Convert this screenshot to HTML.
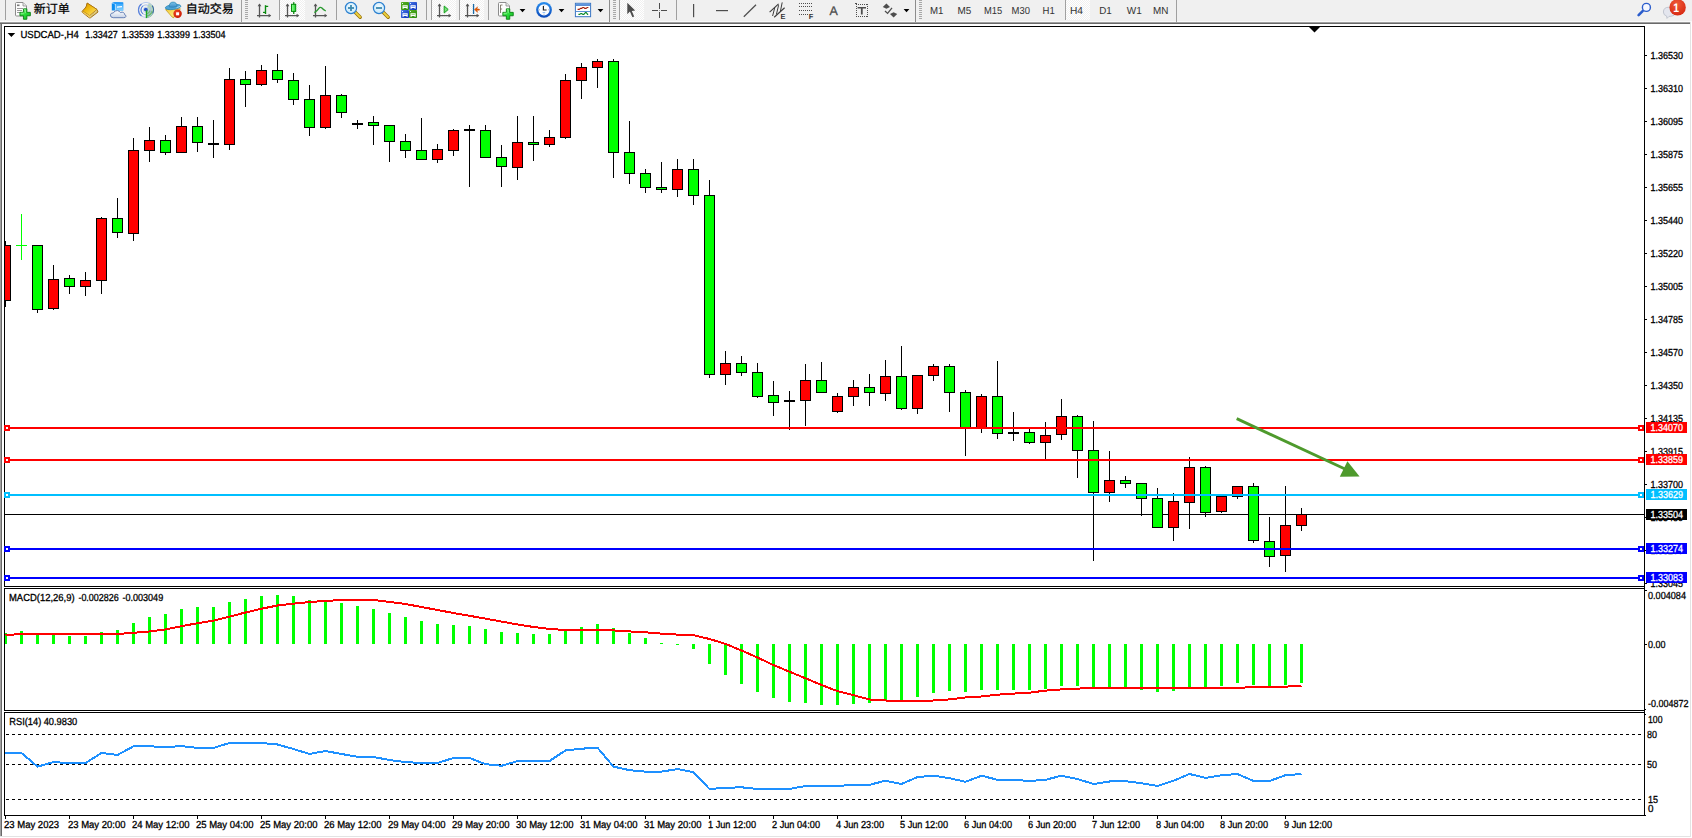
<!DOCTYPE html>
<html><head><meta charset="utf-8"><title>USDCAD-,H4</title>
<style>
html,body{margin:0;padding:0;background:#fff;}
body{width:1692px;height:838px;overflow:hidden;position:relative;font-family:"Liberation Sans","Noto Sans CJK SC",sans-serif;}
svg{position:absolute;left:0;top:0;display:block;}
svg text{font-family:"Liberation Sans","Noto Sans CJK SC",sans-serif;}
</style></head><body>
<svg width="1692" height="838" viewBox="0 0 1692 838" shape-rendering="crispEdges">
<rect x="0" y="0" width="1692" height="838" fill="#ffffff"/>
<rect x="0" y="0" width="1692" height="21" fill="#f0f0f0"/>
<rect x="0" y="21" width="1692" height="1" fill="#fafafa"/>
<rect x="0" y="22" width="1690" height="1" fill="#a0a0a0"/>
<rect x="0" y="23" width="1690" height="1" fill="#696969"/>
<rect x="0" y="24" width="1" height="812" fill="#a0a0a0"/>
<rect x="1" y="24" width="1" height="812" fill="#696969"/>
<rect x="1690" y="22" width="1" height="815" fill="#e3e3e3"/>
<rect x="0" y="836" width="1691" height="1" fill="#e3e3e3"/>
<rect x="4" y="26" width="1641" height="1" fill="#000"/>
<rect x="4" y="586" width="1641" height="1" fill="#000"/>
<rect x="4" y="26" width="1" height="561" fill="#000"/>
<rect x="4" y="588" width="1641" height="1" fill="#000"/>
<rect x="4" y="710" width="1641" height="1" fill="#000"/>
<rect x="4" y="588" width="1" height="123" fill="#000"/>
<rect x="4" y="712" width="1641" height="1" fill="#000"/>
<rect x="4" y="815" width="1641" height="1" fill="#000"/>
<rect x="4" y="712" width="1" height="104" fill="#000"/>
<rect x="1644" y="26" width="1" height="790" fill="#000"/>
<rect x="1645" y="55" width="2" height="1" fill="#000"/>
<rect x="1645" y="88" width="2" height="1" fill="#000"/>
<rect x="1645" y="121" width="2" height="1" fill="#000"/>
<rect x="1645" y="154" width="2" height="1" fill="#000"/>
<rect x="1645" y="187" width="2" height="1" fill="#000"/>
<rect x="1645" y="220" width="2" height="1" fill="#000"/>
<rect x="1645" y="253" width="2" height="1" fill="#000"/>
<rect x="1645" y="286" width="2" height="1" fill="#000"/>
<rect x="1645" y="319" width="2" height="1" fill="#000"/>
<rect x="1645" y="352" width="2" height="1" fill="#000"/>
<rect x="1645" y="385" width="2" height="1" fill="#000"/>
<rect x="1645" y="418" width="2" height="1" fill="#000"/>
<rect x="1645" y="451" width="2" height="1" fill="#000"/>
<rect x="1645" y="484" width="2" height="1" fill="#000"/>
<rect x="1645" y="517" width="2" height="1" fill="#000"/>
<rect x="1645" y="550" width="2" height="1" fill="#000"/>
<rect x="1645" y="583" width="2" height="1" fill="#000"/>
<rect x="1645" y="590" width="2" height="1" fill="#000"/>
<rect x="1645" y="644" width="2" height="1" fill="#000"/>
<rect x="1645" y="709" width="1" height="1" fill="#000"/>
<rect x="1645" y="714" width="1" height="1" fill="#000"/>
<rect x="1645" y="815" width="1" height="1" fill="#000"/>
<polygon points="1309,27 1320,27 1314.5,32.5" fill="#000" shape-rendering="geometricPrecision"/>
<polygon points="7.6,33 15.2,33 11.4,37" fill="#000" shape-rendering="geometricPrecision"/>
<rect x="5" y="514" width="1639" height="1" fill="#000"/>
<rect x="21" y="214" width="1" height="46" fill="#00ff00"/>
<rect x="16" y="245" width="11" height="1" fill="#00ff00"/>
<rect x="5" y="241" width="1" height="66" fill="#000"/>
<rect x="5" y="245" width="6" height="56" fill="#000"/>
<rect x="5" y="246" width="5" height="54" fill="#ff0000"/>
<rect x="37" y="245" width="1" height="68" fill="#000"/>
<rect x="32" y="245" width="11" height="65" fill="#000"/>
<rect x="33" y="246" width="9" height="63" fill="#00ff00"/>
<rect x="53" y="265" width="1" height="45" fill="#000"/>
<rect x="48" y="279" width="11" height="30" fill="#000"/>
<rect x="49" y="280" width="9" height="28" fill="#ff0000"/>
<rect x="69" y="275" width="1" height="19" fill="#000"/>
<rect x="64" y="278" width="11" height="9" fill="#000"/>
<rect x="65" y="279" width="9" height="7" fill="#00ff00"/>
<rect x="85" y="272" width="1" height="24" fill="#000"/>
<rect x="80" y="280" width="11" height="7" fill="#000"/>
<rect x="81" y="281" width="9" height="5" fill="#ff0000"/>
<rect x="101" y="217" width="1" height="77" fill="#000"/>
<rect x="96" y="218" width="11" height="63" fill="#000"/>
<rect x="97" y="219" width="9" height="61" fill="#ff0000"/>
<rect x="117" y="198" width="1" height="40" fill="#000"/>
<rect x="112" y="218" width="11" height="15" fill="#000"/>
<rect x="113" y="219" width="9" height="13" fill="#00ff00"/>
<rect x="133" y="138" width="1" height="103" fill="#000"/>
<rect x="128" y="150" width="11" height="84" fill="#000"/>
<rect x="129" y="151" width="9" height="82" fill="#ff0000"/>
<rect x="149" y="127" width="1" height="35" fill="#000"/>
<rect x="144" y="140" width="11" height="11" fill="#000"/>
<rect x="145" y="141" width="9" height="9" fill="#ff0000"/>
<rect x="165" y="135" width="1" height="20" fill="#000"/>
<rect x="160" y="140" width="11" height="13" fill="#000"/>
<rect x="161" y="141" width="9" height="11" fill="#00ff00"/>
<rect x="181" y="117" width="1" height="36" fill="#000"/>
<rect x="176" y="126" width="11" height="27" fill="#000"/>
<rect x="177" y="127" width="9" height="25" fill="#ff0000"/>
<rect x="197" y="117" width="1" height="35" fill="#000"/>
<rect x="192" y="126" width="11" height="17" fill="#000"/>
<rect x="193" y="127" width="9" height="15" fill="#00ff00"/>
<rect x="213" y="120" width="1" height="38" fill="#000"/>
<rect x="208" y="143" width="11" height="2" fill="#000"/>
<rect x="229" y="68" width="1" height="82" fill="#000"/>
<rect x="224" y="79" width="11" height="66" fill="#000"/>
<rect x="225" y="80" width="9" height="64" fill="#ff0000"/>
<rect x="245" y="71" width="1" height="36" fill="#000"/>
<rect x="240" y="79" width="11" height="6" fill="#000"/>
<rect x="241" y="80" width="9" height="4" fill="#00ff00"/>
<rect x="261" y="65" width="1" height="21" fill="#000"/>
<rect x="256" y="70" width="11" height="15" fill="#000"/>
<rect x="257" y="71" width="9" height="13" fill="#ff0000"/>
<rect x="277" y="54" width="1" height="29" fill="#000"/>
<rect x="272" y="70" width="11" height="10" fill="#000"/>
<rect x="273" y="71" width="9" height="8" fill="#00ff00"/>
<rect x="293" y="73" width="1" height="32" fill="#000"/>
<rect x="288" y="80" width="11" height="20" fill="#000"/>
<rect x="289" y="81" width="9" height="18" fill="#00ff00"/>
<rect x="309" y="85" width="1" height="51" fill="#000"/>
<rect x="304" y="99" width="11" height="29" fill="#000"/>
<rect x="305" y="100" width="9" height="27" fill="#00ff00"/>
<rect x="325" y="66" width="1" height="63" fill="#000"/>
<rect x="320" y="95" width="11" height="33" fill="#000"/>
<rect x="321" y="96" width="9" height="31" fill="#ff0000"/>
<rect x="341" y="94" width="1" height="24" fill="#000"/>
<rect x="336" y="95" width="11" height="18" fill="#000"/>
<rect x="337" y="96" width="9" height="16" fill="#00ff00"/>
<rect x="357" y="120" width="1" height="9" fill="#000"/>
<rect x="352" y="123" width="11" height="2" fill="#000"/>
<rect x="373" y="116" width="1" height="29" fill="#000"/>
<rect x="368" y="122" width="11" height="4" fill="#000"/>
<rect x="369" y="123" width="9" height="2" fill="#00ff00"/>
<rect x="389" y="125" width="1" height="37" fill="#000"/>
<rect x="384" y="125" width="11" height="17" fill="#000"/>
<rect x="385" y="126" width="9" height="15" fill="#00ff00"/>
<rect x="405" y="134" width="1" height="24" fill="#000"/>
<rect x="400" y="141" width="11" height="10" fill="#000"/>
<rect x="401" y="142" width="9" height="8" fill="#00ff00"/>
<rect x="421" y="118" width="1" height="42" fill="#000"/>
<rect x="416" y="150" width="11" height="10" fill="#000"/>
<rect x="417" y="151" width="9" height="8" fill="#00ff00"/>
<rect x="437" y="144" width="1" height="19" fill="#000"/>
<rect x="432" y="149" width="11" height="11" fill="#000"/>
<rect x="433" y="150" width="9" height="9" fill="#ff0000"/>
<rect x="453" y="129" width="1" height="27" fill="#000"/>
<rect x="448" y="130" width="11" height="21" fill="#000"/>
<rect x="449" y="131" width="9" height="19" fill="#ff0000"/>
<rect x="469" y="125" width="1" height="62" fill="#000"/>
<rect x="464" y="129" width="11" height="2" fill="#000"/>
<rect x="485" y="125" width="1" height="33" fill="#000"/>
<rect x="480" y="130" width="11" height="28" fill="#000"/>
<rect x="481" y="131" width="9" height="26" fill="#00ff00"/>
<rect x="501" y="145" width="1" height="42" fill="#000"/>
<rect x="496" y="157" width="11" height="10" fill="#000"/>
<rect x="497" y="158" width="9" height="8" fill="#00ff00"/>
<rect x="517" y="116" width="1" height="64" fill="#000"/>
<rect x="512" y="142" width="11" height="26" fill="#000"/>
<rect x="513" y="143" width="9" height="24" fill="#ff0000"/>
<rect x="533" y="116" width="1" height="45" fill="#000"/>
<rect x="528" y="142" width="11" height="3" fill="#000"/>
<rect x="529" y="143" width="9" height="1" fill="#00ff00"/>
<rect x="549" y="130" width="1" height="17" fill="#000"/>
<rect x="544" y="137" width="11" height="8" fill="#000"/>
<rect x="545" y="138" width="9" height="6" fill="#ff0000"/>
<rect x="565" y="74" width="1" height="65" fill="#000"/>
<rect x="560" y="80" width="11" height="58" fill="#000"/>
<rect x="561" y="81" width="9" height="56" fill="#ff0000"/>
<rect x="581" y="63" width="1" height="36" fill="#000"/>
<rect x="576" y="67" width="11" height="14" fill="#000"/>
<rect x="577" y="68" width="9" height="12" fill="#ff0000"/>
<rect x="597" y="59" width="1" height="29" fill="#000"/>
<rect x="592" y="61" width="11" height="7" fill="#000"/>
<rect x="593" y="62" width="9" height="5" fill="#ff0000"/>
<rect x="613" y="59" width="1" height="119" fill="#000"/>
<rect x="608" y="61" width="11" height="92" fill="#000"/>
<rect x="609" y="62" width="9" height="90" fill="#00ff00"/>
<rect x="629" y="121" width="1" height="63" fill="#000"/>
<rect x="624" y="152" width="11" height="22" fill="#000"/>
<rect x="625" y="153" width="9" height="20" fill="#00ff00"/>
<rect x="645" y="169" width="1" height="24" fill="#000"/>
<rect x="640" y="173" width="11" height="15" fill="#000"/>
<rect x="641" y="174" width="9" height="13" fill="#00ff00"/>
<rect x="661" y="162" width="1" height="31" fill="#000"/>
<rect x="656" y="187" width="11" height="3" fill="#000"/>
<rect x="657" y="188" width="9" height="1" fill="#00ff00"/>
<rect x="677" y="159" width="1" height="38" fill="#000"/>
<rect x="672" y="169" width="11" height="21" fill="#000"/>
<rect x="673" y="170" width="9" height="19" fill="#ff0000"/>
<rect x="693" y="159" width="1" height="46" fill="#000"/>
<rect x="688" y="169" width="11" height="27" fill="#000"/>
<rect x="689" y="170" width="9" height="25" fill="#00ff00"/>
<rect x="709" y="180" width="1" height="198" fill="#000"/>
<rect x="704" y="195" width="11" height="180" fill="#000"/>
<rect x="705" y="196" width="9" height="178" fill="#00ff00"/>
<rect x="725" y="351" width="1" height="34" fill="#000"/>
<rect x="720" y="363" width="11" height="12" fill="#000"/>
<rect x="721" y="364" width="9" height="10" fill="#ff0000"/>
<rect x="741" y="356" width="1" height="20" fill="#000"/>
<rect x="736" y="363" width="11" height="10" fill="#000"/>
<rect x="737" y="364" width="9" height="8" fill="#00ff00"/>
<rect x="757" y="363" width="1" height="35" fill="#000"/>
<rect x="752" y="372" width="11" height="25" fill="#000"/>
<rect x="753" y="373" width="9" height="23" fill="#00ff00"/>
<rect x="773" y="381" width="1" height="35" fill="#000"/>
<rect x="768" y="395" width="11" height="8" fill="#000"/>
<rect x="769" y="396" width="9" height="6" fill="#00ff00"/>
<rect x="789" y="391" width="1" height="39" fill="#000"/>
<rect x="784" y="400" width="11" height="2" fill="#000"/>
<rect x="805" y="364" width="1" height="62" fill="#000"/>
<rect x="800" y="380" width="11" height="21" fill="#000"/>
<rect x="801" y="381" width="9" height="19" fill="#ff0000"/>
<rect x="821" y="362" width="1" height="31" fill="#000"/>
<rect x="816" y="380" width="11" height="13" fill="#000"/>
<rect x="817" y="381" width="9" height="11" fill="#00ff00"/>
<rect x="837" y="393" width="1" height="20" fill="#000"/>
<rect x="832" y="396" width="11" height="16" fill="#000"/>
<rect x="833" y="397" width="9" height="14" fill="#ff0000"/>
<rect x="853" y="380" width="1" height="26" fill="#000"/>
<rect x="848" y="387" width="11" height="10" fill="#000"/>
<rect x="849" y="388" width="9" height="8" fill="#ff0000"/>
<rect x="869" y="374" width="1" height="32" fill="#000"/>
<rect x="864" y="387" width="11" height="6" fill="#000"/>
<rect x="865" y="388" width="9" height="4" fill="#00ff00"/>
<rect x="885" y="360" width="1" height="41" fill="#000"/>
<rect x="880" y="376" width="11" height="18" fill="#000"/>
<rect x="881" y="377" width="9" height="16" fill="#ff0000"/>
<rect x="901" y="346" width="1" height="64" fill="#000"/>
<rect x="896" y="376" width="11" height="33" fill="#000"/>
<rect x="897" y="377" width="9" height="31" fill="#00ff00"/>
<rect x="917" y="375" width="1" height="39" fill="#000"/>
<rect x="912" y="375" width="11" height="34" fill="#000"/>
<rect x="913" y="376" width="9" height="32" fill="#ff0000"/>
<rect x="933" y="364" width="1" height="17" fill="#000"/>
<rect x="928" y="366" width="11" height="10" fill="#000"/>
<rect x="929" y="367" width="9" height="8" fill="#ff0000"/>
<rect x="949" y="364" width="1" height="48" fill="#000"/>
<rect x="944" y="366" width="11" height="27" fill="#000"/>
<rect x="945" y="367" width="9" height="25" fill="#00ff00"/>
<rect x="965" y="390" width="1" height="66" fill="#000"/>
<rect x="960" y="392" width="11" height="37" fill="#000"/>
<rect x="961" y="393" width="9" height="35" fill="#00ff00"/>
<rect x="981" y="394" width="1" height="39" fill="#000"/>
<rect x="976" y="396" width="11" height="33" fill="#000"/>
<rect x="977" y="397" width="9" height="31" fill="#ff0000"/>
<rect x="997" y="361" width="1" height="78" fill="#000"/>
<rect x="992" y="396" width="11" height="38" fill="#000"/>
<rect x="993" y="397" width="9" height="36" fill="#00ff00"/>
<rect x="1013" y="412" width="1" height="29" fill="#000"/>
<rect x="1008" y="432" width="11" height="2" fill="#000"/>
<rect x="1029" y="429" width="1" height="15" fill="#000"/>
<rect x="1024" y="432" width="11" height="11" fill="#000"/>
<rect x="1025" y="433" width="9" height="9" fill="#00ff00"/>
<rect x="1045" y="422" width="1" height="37" fill="#000"/>
<rect x="1040" y="435" width="11" height="8" fill="#000"/>
<rect x="1041" y="436" width="9" height="6" fill="#ff0000"/>
<rect x="1061" y="399" width="1" height="41" fill="#000"/>
<rect x="1056" y="416" width="11" height="19" fill="#000"/>
<rect x="1057" y="417" width="9" height="17" fill="#ff0000"/>
<rect x="1077" y="415" width="1" height="63" fill="#000"/>
<rect x="1072" y="416" width="11" height="35" fill="#000"/>
<rect x="1073" y="417" width="9" height="33" fill="#00ff00"/>
<rect x="1093" y="421" width="1" height="140" fill="#000"/>
<rect x="1088" y="450" width="11" height="43" fill="#000"/>
<rect x="1089" y="451" width="9" height="41" fill="#00ff00"/>
<rect x="1109" y="451" width="1" height="51" fill="#000"/>
<rect x="1104" y="480" width="11" height="13" fill="#000"/>
<rect x="1105" y="481" width="9" height="11" fill="#ff0000"/>
<rect x="1125" y="476" width="1" height="12" fill="#000"/>
<rect x="1120" y="480" width="11" height="4" fill="#000"/>
<rect x="1121" y="481" width="9" height="2" fill="#00ff00"/>
<rect x="1141" y="483" width="1" height="33" fill="#000"/>
<rect x="1136" y="483" width="11" height="16" fill="#000"/>
<rect x="1137" y="484" width="9" height="14" fill="#00ff00"/>
<rect x="1157" y="488" width="1" height="40" fill="#000"/>
<rect x="1152" y="498" width="11" height="30" fill="#000"/>
<rect x="1153" y="499" width="9" height="28" fill="#00ff00"/>
<rect x="1173" y="493" width="1" height="48" fill="#000"/>
<rect x="1168" y="501" width="11" height="27" fill="#000"/>
<rect x="1169" y="502" width="9" height="25" fill="#ff0000"/>
<rect x="1189" y="457" width="1" height="72" fill="#000"/>
<rect x="1184" y="467" width="11" height="36" fill="#000"/>
<rect x="1185" y="468" width="9" height="34" fill="#ff0000"/>
<rect x="1205" y="466" width="1" height="51" fill="#000"/>
<rect x="1200" y="467" width="11" height="46" fill="#000"/>
<rect x="1201" y="468" width="9" height="44" fill="#00ff00"/>
<rect x="1221" y="496" width="1" height="17" fill="#000"/>
<rect x="1216" y="496" width="11" height="16" fill="#000"/>
<rect x="1217" y="497" width="9" height="14" fill="#ff0000"/>
<rect x="1237" y="486" width="1" height="13" fill="#000"/>
<rect x="1232" y="486" width="11" height="11" fill="#000"/>
<rect x="1233" y="487" width="9" height="9" fill="#ff0000"/>
<rect x="1253" y="483" width="1" height="60" fill="#000"/>
<rect x="1248" y="486" width="11" height="55" fill="#000"/>
<rect x="1249" y="487" width="9" height="53" fill="#00ff00"/>
<rect x="1269" y="517" width="1" height="50" fill="#000"/>
<rect x="1264" y="541" width="11" height="16" fill="#000"/>
<rect x="1265" y="542" width="9" height="14" fill="#00ff00"/>
<rect x="1285" y="486" width="1" height="86" fill="#000"/>
<rect x="1280" y="525" width="11" height="31" fill="#000"/>
<rect x="1281" y="526" width="9" height="29" fill="#ff0000"/>
<rect x="1301" y="508" width="1" height="23" fill="#000"/>
<rect x="1296" y="514" width="11" height="12" fill="#000"/>
<rect x="1297" y="515" width="9" height="10" fill="#ff0000"/>
<rect x="5" y="427" width="1639" height="2" fill="#ff0000"/>
<rect x="4" y="425" width="6" height="6" fill="#ff0000"/>
<rect x="6" y="427" width="2" height="2" fill="#fff"/>
<rect x="1638" y="425" width="6" height="6" fill="#ff0000"/>
<rect x="1640" y="427" width="2" height="2" fill="#fff"/>
<rect x="5" y="459" width="1639" height="2" fill="#ff0000"/>
<rect x="4" y="457" width="6" height="6" fill="#ff0000"/>
<rect x="6" y="459" width="2" height="2" fill="#fff"/>
<rect x="1638" y="457" width="6" height="6" fill="#ff0000"/>
<rect x="1640" y="459" width="2" height="2" fill="#fff"/>
<rect x="5" y="494" width="1639" height="2" fill="#00bfff"/>
<rect x="4" y="492" width="6" height="6" fill="#00bfff"/>
<rect x="6" y="494" width="2" height="2" fill="#fff"/>
<rect x="1638" y="492" width="6" height="6" fill="#00bfff"/>
<rect x="1640" y="494" width="2" height="2" fill="#fff"/>
<rect x="5" y="548" width="1639" height="2" fill="#0000ff"/>
<rect x="4" y="546" width="6" height="6" fill="#0000ff"/>
<rect x="6" y="548" width="2" height="2" fill="#fff"/>
<rect x="1638" y="546" width="6" height="6" fill="#0000ff"/>
<rect x="1640" y="548" width="2" height="2" fill="#fff"/>
<rect x="5" y="577" width="1639" height="2" fill="#0000ff"/>
<rect x="4" y="575" width="6" height="6" fill="#0000ff"/>
<rect x="6" y="577" width="2" height="2" fill="#fff"/>
<rect x="1638" y="575" width="6" height="6" fill="#0000ff"/>
<rect x="1640" y="577" width="2" height="2" fill="#fff"/>
<g shape-rendering="geometricPrecision"><line x1="1236.7" y1="418.6" x2="1345" y2="469" stroke="#4e9a2c" stroke-width="2.9"/><polygon points="1347.4,461.3 1339.8,476.8 1359.6,476.4" fill="#4e9a2c"/></g>
<rect x="5" y="633" width="2" height="11" fill="#00ff00"/>
<rect x="20" y="631" width="3" height="13" fill="#00ff00"/>
<rect x="36" y="634" width="3" height="10" fill="#00ff00"/>
<rect x="52" y="634" width="3" height="10" fill="#00ff00"/>
<rect x="68" y="636" width="3" height="8" fill="#00ff00"/>
<rect x="84" y="636" width="3" height="8" fill="#00ff00"/>
<rect x="100" y="632" width="3" height="12" fill="#00ff00"/>
<rect x="116" y="630" width="3" height="14" fill="#00ff00"/>
<rect x="132" y="623" width="3" height="21" fill="#00ff00"/>
<rect x="148" y="617" width="3" height="27" fill="#00ff00"/>
<rect x="164" y="614" width="3" height="30" fill="#00ff00"/>
<rect x="180" y="609" width="3" height="35" fill="#00ff00"/>
<rect x="196" y="607" width="3" height="37" fill="#00ff00"/>
<rect x="212" y="607" width="3" height="37" fill="#00ff00"/>
<rect x="228" y="602" width="3" height="42" fill="#00ff00"/>
<rect x="244" y="599" width="3" height="45" fill="#00ff00"/>
<rect x="260" y="596" width="3" height="48" fill="#00ff00"/>
<rect x="276" y="595" width="3" height="49" fill="#00ff00"/>
<rect x="292" y="596" width="3" height="48" fill="#00ff00"/>
<rect x="308" y="600" width="3" height="44" fill="#00ff00"/>
<rect x="324" y="601" width="3" height="43" fill="#00ff00"/>
<rect x="340" y="603" width="3" height="41" fill="#00ff00"/>
<rect x="356" y="606" width="3" height="38" fill="#00ff00"/>
<rect x="372" y="609" width="3" height="35" fill="#00ff00"/>
<rect x="388" y="613" width="3" height="31" fill="#00ff00"/>
<rect x="404" y="617" width="3" height="27" fill="#00ff00"/>
<rect x="420" y="621" width="3" height="23" fill="#00ff00"/>
<rect x="436" y="624" width="3" height="20" fill="#00ff00"/>
<rect x="452" y="625" width="3" height="19" fill="#00ff00"/>
<rect x="468" y="626" width="3" height="18" fill="#00ff00"/>
<rect x="484" y="629" width="3" height="15" fill="#00ff00"/>
<rect x="500" y="632" width="3" height="12" fill="#00ff00"/>
<rect x="516" y="633" width="3" height="11" fill="#00ff00"/>
<rect x="532" y="634" width="3" height="10" fill="#00ff00"/>
<rect x="548" y="634" width="3" height="10" fill="#00ff00"/>
<rect x="564" y="631" width="3" height="13" fill="#00ff00"/>
<rect x="580" y="627" width="3" height="17" fill="#00ff00"/>
<rect x="596" y="624" width="3" height="20" fill="#00ff00"/>
<rect x="612" y="628" width="3" height="16" fill="#00ff00"/>
<rect x="628" y="633" width="3" height="11" fill="#00ff00"/>
<rect x="644" y="638" width="3" height="6" fill="#00ff00"/>
<rect x="660" y="643" width="3" height="1" fill="#00ff00"/>
<rect x="676" y="644" width="3" height="1" fill="#00ff00"/>
<rect x="692" y="644" width="3" height="5" fill="#00ff00"/>
<rect x="708" y="644" width="3" height="20" fill="#00ff00"/>
<rect x="724" y="644" width="3" height="31" fill="#00ff00"/>
<rect x="740" y="644" width="3" height="40" fill="#00ff00"/>
<rect x="756" y="644" width="3" height="48" fill="#00ff00"/>
<rect x="772" y="644" width="3" height="54" fill="#00ff00"/>
<rect x="788" y="644" width="3" height="58" fill="#00ff00"/>
<rect x="804" y="644" width="3" height="59" fill="#00ff00"/>
<rect x="820" y="644" width="3" height="61" fill="#00ff00"/>
<rect x="836" y="644" width="3" height="61" fill="#00ff00"/>
<rect x="852" y="644" width="3" height="60" fill="#00ff00"/>
<rect x="868" y="644" width="3" height="59" fill="#00ff00"/>
<rect x="884" y="644" width="3" height="57" fill="#00ff00"/>
<rect x="900" y="644" width="3" height="56" fill="#00ff00"/>
<rect x="916" y="644" width="3" height="53" fill="#00ff00"/>
<rect x="932" y="644" width="3" height="49" fill="#00ff00"/>
<rect x="948" y="644" width="3" height="47" fill="#00ff00"/>
<rect x="964" y="644" width="3" height="48" fill="#00ff00"/>
<rect x="980" y="644" width="3" height="46" fill="#00ff00"/>
<rect x="996" y="644" width="3" height="46" fill="#00ff00"/>
<rect x="1012" y="644" width="3" height="46" fill="#00ff00"/>
<rect x="1028" y="644" width="3" height="46" fill="#00ff00"/>
<rect x="1044" y="644" width="3" height="45" fill="#00ff00"/>
<rect x="1060" y="644" width="3" height="42" fill="#00ff00"/>
<rect x="1076" y="644" width="3" height="42" fill="#00ff00"/>
<rect x="1092" y="644" width="3" height="43" fill="#00ff00"/>
<rect x="1108" y="644" width="3" height="43" fill="#00ff00"/>
<rect x="1124" y="644" width="3" height="43" fill="#00ff00"/>
<rect x="1140" y="644" width="3" height="46" fill="#00ff00"/>
<rect x="1156" y="644" width="3" height="48" fill="#00ff00"/>
<rect x="1172" y="644" width="3" height="47" fill="#00ff00"/>
<rect x="1188" y="644" width="3" height="43" fill="#00ff00"/>
<rect x="1204" y="644" width="3" height="43" fill="#00ff00"/>
<rect x="1220" y="644" width="3" height="42" fill="#00ff00"/>
<rect x="1236" y="644" width="3" height="39" fill="#00ff00"/>
<rect x="1252" y="644" width="3" height="41" fill="#00ff00"/>
<rect x="1268" y="644" width="3" height="42" fill="#00ff00"/>
<rect x="1284" y="644" width="3" height="41" fill="#00ff00"/>
<rect x="1300" y="644" width="3" height="39" fill="#00ff00"/>
<polyline points="5.5,635.1 21.5,634 37.5,634 53.5,634 69.5,634 85.5,634 101.5,634 117.5,634 133.5,632.8 149.5,631.5 165.5,629.5 181.5,626.2 197.5,623.2 213.5,620.7 229.5,616.6 245.5,612.5 261.5,608.7 277.5,605.5 293.5,603.7 309.5,602 325.5,601 341.5,600 357.5,600 373.5,600 389.5,602 405.5,604 421.5,607 437.5,610 453.5,613 469.5,615.8 485.5,618.6 501.5,621.6 517.5,624.4 533.5,627 549.5,629 565.5,630 581.5,630 597.5,630 613.5,630.4 629.5,631.4 645.5,632.3 661.5,633.6 677.5,634.6 693.5,635.1 709.5,639 725.5,643.9 741.5,650.5 757.5,657.5 773.5,665.1 789.5,671.7 805.5,678.3 821.5,685 837.5,691.1 853.5,695.2 869.5,699.5 885.5,700.5 901.5,700.8 917.5,700.8 933.5,700.5 949.5,699.4 965.5,697.5 981.5,696.5 997.5,694.7 1013.5,693.6 1029.5,692.7 1045.5,690.6 1061.5,689.4 1077.5,688.6 1093.5,688 1109.5,688 1125.5,688 1141.5,688 1157.5,688 1173.5,688 1189.5,688 1205.5,688 1221.5,688 1237.5,688 1253.5,687 1269.5,687 1285.5,686.6 1301.5,686" fill="none" stroke="#ff0000" stroke-width="2" stroke-linejoin="round"/>
<line x1="6" y1="734.5" x2="1642" y2="734.5" stroke="#000" stroke-width="1" stroke-dasharray="3 3"/>
<line x1="6" y1="764.5" x2="1642" y2="764.5" stroke="#000" stroke-width="1" stroke-dasharray="3 3"/>
<line x1="6" y1="799.5" x2="1642" y2="799.5" stroke="#000" stroke-width="1" stroke-dasharray="3 3"/>
<polyline points="4.5,753 5.5,753 21.5,753 37.5,766.6 53.5,762.1 69.5,763.1 85.5,763.1 101.5,753 117.5,755 133.5,746.3 149.5,746.3 165.5,747.1 181.5,746.1 197.5,747.9 213.5,747.9 229.5,743 245.5,743 261.5,743 277.5,744.5 293.5,749 309.5,754 325.5,751 341.5,754 357.5,756.7 373.5,757 389.5,760 405.5,762.1 421.5,763 437.5,763 453.5,758 469.5,758 485.5,764.1 501.5,765.8 517.5,761.1 533.5,761.1 549.5,761 565.5,750.4 581.5,748.7 597.5,747.7 613.5,766.6 629.5,770.2 645.5,771.6 661.5,771.6 677.5,769.1 693.5,772.1 709.5,789 725.5,787.8 741.5,787.3 757.5,789 773.5,789 789.5,789 805.5,786 821.5,786 837.5,786 853.5,784.8 869.5,784.8 885.5,780.7 901.5,784 917.5,777 933.5,775.7 949.5,778.2 965.5,781.8 981.5,775.7 997.5,779.8 1013.5,779.8 1029.5,781 1045.5,779.8 1061.5,775.7 1077.5,779 1093.5,784 1109.5,781.5 1125.5,781.2 1141.5,783.2 1157.5,786 1173.5,780.7 1189.5,774 1205.5,777.9 1221.5,775.2 1237.5,774 1253.5,781 1269.5,781 1285.5,775.2 1301.5,774" fill="none" stroke="#1e90ff" stroke-width="2" stroke-linejoin="round"/>
<rect x="5" y="816" width="1" height="3" fill="#000"/>
<rect x="69" y="816" width="1" height="3" fill="#000"/>
<rect x="133" y="816" width="1" height="3" fill="#000"/>
<rect x="197" y="816" width="1" height="3" fill="#000"/>
<rect x="261" y="816" width="1" height="3" fill="#000"/>
<rect x="325" y="816" width="1" height="3" fill="#000"/>
<rect x="389" y="816" width="1" height="3" fill="#000"/>
<rect x="453" y="816" width="1" height="3" fill="#000"/>
<rect x="517" y="816" width="1" height="3" fill="#000"/>
<rect x="581" y="816" width="1" height="3" fill="#000"/>
<rect x="645" y="816" width="1" height="3" fill="#000"/>
<rect x="709" y="816" width="1" height="3" fill="#000"/>
<rect x="773" y="816" width="1" height="3" fill="#000"/>
<rect x="837" y="816" width="1" height="3" fill="#000"/>
<rect x="901" y="816" width="1" height="3" fill="#000"/>
<rect x="965" y="816" width="1" height="3" fill="#000"/>
<rect x="1029" y="816" width="1" height="3" fill="#000"/>
<rect x="1093" y="816" width="1" height="3" fill="#000"/>
<rect x="1157" y="816" width="1" height="3" fill="#000"/>
<rect x="1221" y="816" width="1" height="3" fill="#000"/>
<rect x="1285" y="816" width="1" height="3" fill="#000"/>
<g shape-rendering="geometricPrecision" text-rendering="geometricPrecision">
<text x="20.4" y="38" font-size="10.2" fill="#000" stroke="#000" stroke-width="0.3" textLength="58.4" lengthAdjust="spacingAndGlyphs">USDCAD-,H4</text>
<text x="85.2" y="38" font-size="10.2" fill="#000" stroke="#000" stroke-width="0.3" textLength="32.6" lengthAdjust="spacingAndGlyphs">1.33427</text>
<text x="121.4" y="38" font-size="10.2" fill="#000" stroke="#000" stroke-width="0.3" textLength="32.6" lengthAdjust="spacingAndGlyphs">1.33539</text>
<text x="157.3" y="38" font-size="10.2" fill="#000" stroke="#000" stroke-width="0.3" textLength="32.6" lengthAdjust="spacingAndGlyphs">1.33399</text>
<text x="193" y="38" font-size="10.2" fill="#000" stroke="#000" stroke-width="0.3" textLength="32.6" lengthAdjust="spacingAndGlyphs">1.33504</text>
<text x="9" y="601" font-size="10.2" fill="#000" stroke="#000" stroke-width="0.3" textLength="65.6" lengthAdjust="spacingAndGlyphs">MACD(12,26,9)</text>
<text x="78.4" y="601" font-size="10.2" fill="#000" stroke="#000" stroke-width="0.3" textLength="40.4" lengthAdjust="spacingAndGlyphs">-0.002826</text>
<text x="122.4" y="601" font-size="10.2" fill="#000" stroke="#000" stroke-width="0.3" textLength="40.8" lengthAdjust="spacingAndGlyphs">-0.003049</text>
<text x="9.3" y="725" font-size="10.2" fill="#000" stroke="#000" stroke-width="0.3" textLength="32" lengthAdjust="spacingAndGlyphs">RSI(14)</text>
<text x="43.7" y="725" font-size="10.2" fill="#000" stroke="#000" stroke-width="0.3" textLength="33.6" lengthAdjust="spacingAndGlyphs">40.9830</text>
<text x="1650.6" y="59" font-size="10.2" fill="#000" stroke="#000" stroke-width="0.3" textLength="32.5" lengthAdjust="spacingAndGlyphs">1.36530</text>
<text x="1650.6" y="92" font-size="10.2" fill="#000" stroke="#000" stroke-width="0.3" textLength="32.5" lengthAdjust="spacingAndGlyphs">1.36310</text>
<text x="1650.6" y="125" font-size="10.2" fill="#000" stroke="#000" stroke-width="0.3" textLength="32.5" lengthAdjust="spacingAndGlyphs">1.36095</text>
<text x="1650.6" y="158" font-size="10.2" fill="#000" stroke="#000" stroke-width="0.3" textLength="32.5" lengthAdjust="spacingAndGlyphs">1.35875</text>
<text x="1650.6" y="191" font-size="10.2" fill="#000" stroke="#000" stroke-width="0.3" textLength="32.5" lengthAdjust="spacingAndGlyphs">1.35655</text>
<text x="1650.6" y="224" font-size="10.2" fill="#000" stroke="#000" stroke-width="0.3" textLength="32.5" lengthAdjust="spacingAndGlyphs">1.35440</text>
<text x="1650.6" y="257" font-size="10.2" fill="#000" stroke="#000" stroke-width="0.3" textLength="32.5" lengthAdjust="spacingAndGlyphs">1.35220</text>
<text x="1650.6" y="290" font-size="10.2" fill="#000" stroke="#000" stroke-width="0.3" textLength="32.5" lengthAdjust="spacingAndGlyphs">1.35005</text>
<text x="1650.6" y="323" font-size="10.2" fill="#000" stroke="#000" stroke-width="0.3" textLength="32.5" lengthAdjust="spacingAndGlyphs">1.34785</text>
<text x="1650.6" y="356" font-size="10.2" fill="#000" stroke="#000" stroke-width="0.3" textLength="32.5" lengthAdjust="spacingAndGlyphs">1.34570</text>
<text x="1650.6" y="389" font-size="10.2" fill="#000" stroke="#000" stroke-width="0.3" textLength="32.5" lengthAdjust="spacingAndGlyphs">1.34350</text>
<text x="1650.6" y="422" font-size="10.2" fill="#000" stroke="#000" stroke-width="0.3" textLength="32.5" lengthAdjust="spacingAndGlyphs">1.34135</text>
<text x="1650.6" y="455" font-size="10.2" fill="#000" stroke="#000" stroke-width="0.3" textLength="32.5" lengthAdjust="spacingAndGlyphs">1.33915</text>
<text x="1650.6" y="488" font-size="10.2" fill="#000" stroke="#000" stroke-width="0.3" textLength="32.5" lengthAdjust="spacingAndGlyphs">1.33700</text>
<text x="1650.6" y="521" font-size="10.2" fill="#000" stroke="#000" stroke-width="0.3" textLength="32.5" lengthAdjust="spacingAndGlyphs">1.33480</text>
<text x="1650.6" y="554" font-size="10.2" fill="#000" stroke="#000" stroke-width="0.3" textLength="32.5" lengthAdjust="spacingAndGlyphs">1.33265</text>
<text x="1650.6" y="587" font-size="10.2" fill="#000" stroke="#000" stroke-width="0.3" textLength="32.5" lengthAdjust="spacingAndGlyphs">1.33045</text>
<rect x="1646" y="422" width="41" height="11" fill="#ff0000"/>
<text x="1650.6" y="431" font-size="10.2" fill="#fff" stroke="#fff" stroke-width="0.3" textLength="32.5" lengthAdjust="spacingAndGlyphs">1.34070</text>
<rect x="1646" y="454" width="41" height="11" fill="#ff0000"/>
<text x="1650.6" y="463" font-size="10.2" fill="#fff" stroke="#fff" stroke-width="0.3" textLength="32.5" lengthAdjust="spacingAndGlyphs">1.33859</text>
<rect x="1646" y="489" width="41" height="11" fill="#00bfff"/>
<text x="1650.6" y="498" font-size="10.2" fill="#fff" stroke="#fff" stroke-width="0.3" textLength="32.5" lengthAdjust="spacingAndGlyphs">1.33629</text>
<rect x="1646" y="543" width="41" height="11" fill="#0000ff"/>
<text x="1650.6" y="552" font-size="10.2" fill="#fff" stroke="#fff" stroke-width="0.3" textLength="32.5" lengthAdjust="spacingAndGlyphs">1.33274</text>
<rect x="1646" y="572" width="41" height="11" fill="#0000ff"/>
<text x="1650.6" y="581" font-size="10.2" fill="#fff" stroke="#fff" stroke-width="0.3" textLength="32.5" lengthAdjust="spacingAndGlyphs">1.33083</text>
<rect x="1646" y="509" width="41" height="11" fill="#000"/>
<text x="1650.6" y="518" font-size="10.2" fill="#fff" stroke="#fff" stroke-width="0.3" textLength="32.5" lengthAdjust="spacingAndGlyphs">1.33504</text>
<text x="1648" y="599" font-size="10.2" fill="#000" stroke="#000" stroke-width="0.3" textLength="38" lengthAdjust="spacingAndGlyphs">0.004084</text>
<text x="1648" y="648" font-size="10.2" fill="#000" stroke="#000" stroke-width="0.3" textLength="17.5" lengthAdjust="spacingAndGlyphs">0.00</text>
<text x="1648" y="707" font-size="10.2" fill="#000" stroke="#000" stroke-width="0.3" textLength="40.5" lengthAdjust="spacingAndGlyphs">-0.004872</text>
<text x="1648" y="723" font-size="10.2" fill="#000" stroke="#000" stroke-width="0.3" textLength="14.5" lengthAdjust="spacingAndGlyphs">100</text>
<text x="1647" y="738" font-size="10.2" fill="#000" stroke="#000" stroke-width="0.3" textLength="10" lengthAdjust="spacingAndGlyphs">80</text>
<text x="1647" y="768" font-size="10.2" fill="#000" stroke="#000" stroke-width="0.3" textLength="10" lengthAdjust="spacingAndGlyphs">50</text>
<text x="1648" y="803" font-size="10.2" fill="#000" stroke="#000" stroke-width="0.3" textLength="10" lengthAdjust="spacingAndGlyphs">15</text>
<text x="1648" y="812" font-size="10.2" fill="#000" stroke="#000" stroke-width="0.3" textLength="5.5" lengthAdjust="spacingAndGlyphs">0</text>
<text x="4" y="828" font-size="10.2" fill="#000" stroke="#000" stroke-width="0.3" textLength="55" lengthAdjust="spacingAndGlyphs">23 May 2023</text>
<text x="68" y="828" font-size="10.2" fill="#000" stroke="#000" stroke-width="0.3" textLength="57.5" lengthAdjust="spacingAndGlyphs">23 May 20:00</text>
<text x="132" y="828" font-size="10.2" fill="#000" stroke="#000" stroke-width="0.3" textLength="57.5" lengthAdjust="spacingAndGlyphs">24 May 12:00</text>
<text x="196" y="828" font-size="10.2" fill="#000" stroke="#000" stroke-width="0.3" textLength="57.5" lengthAdjust="spacingAndGlyphs">25 May 04:00</text>
<text x="260" y="828" font-size="10.2" fill="#000" stroke="#000" stroke-width="0.3" textLength="57.5" lengthAdjust="spacingAndGlyphs">25 May 20:00</text>
<text x="324" y="828" font-size="10.2" fill="#000" stroke="#000" stroke-width="0.3" textLength="57.5" lengthAdjust="spacingAndGlyphs">26 May 12:00</text>
<text x="388" y="828" font-size="10.2" fill="#000" stroke="#000" stroke-width="0.3" textLength="57.5" lengthAdjust="spacingAndGlyphs">29 May 04:00</text>
<text x="452" y="828" font-size="10.2" fill="#000" stroke="#000" stroke-width="0.3" textLength="57.5" lengthAdjust="spacingAndGlyphs">29 May 20:00</text>
<text x="516" y="828" font-size="10.2" fill="#000" stroke="#000" stroke-width="0.3" textLength="57.5" lengthAdjust="spacingAndGlyphs">30 May 12:00</text>
<text x="580" y="828" font-size="10.2" fill="#000" stroke="#000" stroke-width="0.3" textLength="57.5" lengthAdjust="spacingAndGlyphs">31 May 04:00</text>
<text x="644" y="828" font-size="10.2" fill="#000" stroke="#000" stroke-width="0.3" textLength="57.5" lengthAdjust="spacingAndGlyphs">31 May 20:00</text>
<text x="708" y="828" font-size="10.2" fill="#000" stroke="#000" stroke-width="0.3" textLength="48" lengthAdjust="spacingAndGlyphs">1 Jun 12:00</text>
<text x="772" y="828" font-size="10.2" fill="#000" stroke="#000" stroke-width="0.3" textLength="48" lengthAdjust="spacingAndGlyphs">2 Jun 04:00</text>
<text x="836" y="828" font-size="10.2" fill="#000" stroke="#000" stroke-width="0.3" textLength="48" lengthAdjust="spacingAndGlyphs">4 Jun 23:00</text>
<text x="900" y="828" font-size="10.2" fill="#000" stroke="#000" stroke-width="0.3" textLength="48" lengthAdjust="spacingAndGlyphs">5 Jun 12:00</text>
<text x="964" y="828" font-size="10.2" fill="#000" stroke="#000" stroke-width="0.3" textLength="48" lengthAdjust="spacingAndGlyphs">6 Jun 04:00</text>
<text x="1028" y="828" font-size="10.2" fill="#000" stroke="#000" stroke-width="0.3" textLength="48" lengthAdjust="spacingAndGlyphs">6 Jun 20:00</text>
<text x="1092" y="828" font-size="10.2" fill="#000" stroke="#000" stroke-width="0.3" textLength="48" lengthAdjust="spacingAndGlyphs">7 Jun 12:00</text>
<text x="1156" y="828" font-size="10.2" fill="#000" stroke="#000" stroke-width="0.3" textLength="48" lengthAdjust="spacingAndGlyphs">8 Jun 04:00</text>
<text x="1220" y="828" font-size="10.2" fill="#000" stroke="#000" stroke-width="0.3" textLength="48" lengthAdjust="spacingAndGlyphs">8 Jun 20:00</text>
<text x="1284" y="828" font-size="10.2" fill="#000" stroke="#000" stroke-width="0.3" textLength="48" lengthAdjust="spacingAndGlyphs">9 Jun 12:00</text>
</g>
<g shape-rendering="geometricPrecision" text-rendering="geometricPrecision">
<defs>
<linearGradient id="gplus" x1="0" y1="0" x2="1" y2="1"><stop offset="0" stop-color="#7cf47c"/><stop offset="0.5" stop-color="#2adc3a"/><stop offset="1" stop-color="#10b020"/></linearGradient>
<linearGradient id="gbook" x1="0" y1="0" x2="1" y2="1"><stop offset="0" stop-color="#d49004"/><stop offset="0.4" stop-color="#f0b80c"/><stop offset="0.7" stop-color="#f6d040"/><stop offset="1" stop-color="#d89c10"/></linearGradient>
<linearGradient id="gsrv" x1="0" y1="0" x2="0" y2="1"><stop offset="0" stop-color="#30a4fc"/><stop offset="1" stop-color="#86d2ff"/></linearGradient>
<linearGradient id="gcloud" x1="0" y1="0" x2="0" y2="1"><stop offset="0" stop-color="#ffffff"/><stop offset="1" stop-color="#c6d2e6"/></linearGradient>
<linearGradient id="ghat" x1="0" y1="0" x2="0" y2="1"><stop offset="0" stop-color="#7cc4e8"/><stop offset="1" stop-color="#3a8cc8"/></linearGradient>
<linearGradient id="gface" x1="0" y1="0" x2="1" y2="1"><stop offset="0" stop-color="#f4c830"/><stop offset="0.6" stop-color="#fbe978"/><stop offset="1" stop-color="#e0b020"/></linearGradient>
<radialGradient id="gred" cx="0.4" cy="0.35" r="0.7"><stop offset="0" stop-color="#f04a28"/><stop offset="1" stop-color="#c81800"/></radialGradient>
<radialGradient id="gbadge" cx="0.45" cy="0.3" r="0.8"><stop offset="0" stop-color="#ef5a38"/><stop offset="1" stop-color="#d4220c"/></radialGradient>
<linearGradient id="gcandle" x1="0" y1="0" x2="1" y2="0"><stop offset="0" stop-color="#9dff9d"/><stop offset="1" stop-color="#18d828"/></linearGradient>
<radialGradient id="glens" cx="0.5" cy="0.4" r="0.6"><stop offset="0" stop-color="#f4fcff"/><stop offset="1" stop-color="#c4e6fa"/></radialGradient>
<linearGradient id="gclock" x1="0" y1="0" x2="0" y2="1"><stop offset="0" stop-color="#2a90f0"/><stop offset="1" stop-color="#0a48b8"/></linearGradient>
<linearGradient id="gtg" x1="0" y1="0" x2="1" y2="1"><stop offset="0" stop-color="#58b020"/><stop offset="1" stop-color="#288a10"/></linearGradient>
<linearGradient id="gtb" x1="0" y1="0" x2="1" y2="1"><stop offset="0" stop-color="#4a78e8"/><stop offset="1" stop-color="#0a30b8"/></linearGradient>
<linearGradient id="gtpl" x1="0" y1="0" x2="0" y2="1"><stop offset="0" stop-color="#7ab0f0"/><stop offset="1" stop-color="#2a68c0"/></linearGradient>
<pattern id="chk" width="2" height="2" patternUnits="userSpaceOnUse"><rect width="2" height="2" fill="#ffffff"/><rect width="1" height="1" fill="#f0f0f0"/><rect x="1" y="1" width="1" height="1" fill="#f0f0f0"/></pattern>
</defs>
<rect x="5" y="0" width="1" height="20" fill="#a0a0a0" shape-rendering="crispEdges"/>
<path d="M15.5,3.5 q0,-1 1,-1 h6.5 l3.5,3.5 v9 q0,1 -1,1 h-9 q-1,0 -1,-1 z" fill="#fdfdfd" stroke="#8c8c8c" stroke-width="1"/>
<path d="M23,2.5 v3.5 h3.5" fill="#e8e8e8" stroke="#8c8c8c" stroke-width="0.8"/>
<g stroke="#9a9a9a" stroke-width="1"><path d="M17,8.5 h6 M17,10.5 h5 M17,12.5 h3"/></g><rect x="17" y="4.5" width="2.5" height="1.6" fill="#777"/>
<path d="M23.45,8.85 h3.4 v3.5 h3.5 v3.4 h-3.5 v3.5 h-3.4 v-3.5 h-3.5 v-3.4 h3.5 z" fill="url(#gplus)" stroke="#0a8212" stroke-width="0.9" stroke-linejoin="miter"/>
<path d="M24.15,9.65 h1.2 v3.5 M20.75,13.149999999999999 h3.4" stroke="#b8ffb8" stroke-width="0.7" fill="none" opacity="0.8"/>
<text x="33.8" y="13.2" font-size="12" fill="#000" stroke="#000" stroke-width="0.25">新订单</text>
<path d="M87.2,3.1 L97,9.5 L98,12 L90.4,17.8 Q89.6,18.1 88.8,17.5 L82.2,12.2 Q81.8,11.6 82.4,11 Q85.4,8.6 86.3,6.4 Z" fill="#f6ecb0" stroke="#9a6206" stroke-width="0.9" stroke-linejoin="round"/>
<path d="M87.2,3.1 L97,9.5 L89.6,15.6 L82.4,11 Q85.4,8.6 86.3,6.4 Z" fill="url(#gbook)" stroke="#a46a08" stroke-width="0.7" stroke-linejoin="round"/>
<path d="M82.3,11.2 L89.6,15.7 L90.3,17.7 L82.4,12.2 Z" fill="#f2c848"/>
<path d="M90,16.2 L97.4,10.6 M90.3,17.2 L97.8,11.6" stroke="#b08820" stroke-width="0.5" fill="none"/>
<path d="M111.8,3 L115.4,2 L123.2,2.6 V10.6 H111.8 Z" fill="#0c8ef0"/>
<path d="M115.4,4 L123.2,3.4 V10.8 H115.4 Z" fill="url(#gsrv)"/><path d="M111.8,3 L115.4,4 V11" stroke="#e8f6ff" stroke-width="0.7" fill="none"/><path d="M111.8,3 L115.4,2 L123.2,2.6 L123.2,3.4 L115.4,4 Z" fill="#2a9cf8"/>
<path d="M117,6.6 L122,6.1 V7.3 L117,7.8 Z" fill="#fff"/>
<path d="M113.2,17.7 Q110.2,17.5 110.4,14.9 Q110.8,12.7 113.4,12.9 Q114.4,10.4 117.4,10.6 Q119.6,10.9 120.4,12.6 Q122.2,11.6 123.8,12.8 Q124.8,13.6 124.6,14.6 Q126.2,15 125.9,16.5 Q125.5,17.8 123.8,17.7 Z" fill="url(#gcloud)" stroke="#5a76b0" stroke-width="0.9"/>
<circle cx="146" cy="9.9" r="8" fill="#f7f7f3" opacity="0.85"/>
<path d="M146,9.9 L146,18 A8.1,8.1 0 0 0 149,2.4 Z" fill="#48a848" opacity="0.36"/><path d="M146,9.9 L146,18 A8.1,8.1 0 0 0 154,11 Z" fill="#3aa63c" opacity="0.55"/>
<g fill="none"><circle cx="146" cy="9.9" r="7.5" stroke="#b4c8ee" stroke-width="1"/><circle cx="146" cy="9.9" r="5" stroke="#a8bfea" stroke-width="1"/><circle cx="146" cy="9.9" r="2.8" stroke="#c0d0f0" stroke-width="0.8"/><path d="M141.5,3.9 A7.5,7.5 0 0 0 141.5,15.9" stroke="#5c84dc" stroke-width="1.2"/><path d="M143,5.9 A5,5 0 0 0 143,13.9" stroke="#5c84dc" stroke-width="1.1"/><path d="M152.2,5.6 A7.5,7.5 0 0 1 152.6,13.4" stroke="#3a6a9a" stroke-width="1.1"/></g>
<circle cx="145.8" cy="9.6" r="1.9" fill="#2254c8"/><rect x="145.8" y="10.4" width="1.4" height="7.7" fill="#1ca821"/>
<path d="M165.6,9.6 L180.4,8.8 L174,17.4 Q173.2,18 172.4,17.3 Z" fill="url(#gface)" stroke="#c49a18" stroke-width="0.8" stroke-linejoin="round"/>
<ellipse cx="173.1" cy="7" rx="7.9" ry="2.5" transform="rotate(-7 173.1 7)" fill="#4ea4d8" stroke="#2a84b2" stroke-width="0.7"/>
<path d="M169.2,6.9 Q169.2,2.1 173,2.1 Q176.8,2.1 177,6.2 Q173.4,8 169.2,6.9 Z" fill="url(#ghat)" stroke="#2a84b2" stroke-width="0.7"/>
<path d="M176.6,7.6 Q179.4,7 180.4,5.8" stroke="#bfe4f8" stroke-width="0.8" fill="none"/>
<circle cx="177.6" cy="13.8" r="4.2" fill="url(#gred)"/><rect x="176.1" y="12.3" width="3" height="3" fill="#fff"/>
<text x="185.8" y="13.2" font-size="12" fill="#000" stroke="#000" stroke-width="0.25">自动交易</text>
<rect x="241" y="0" width="1" height="22" fill="#a0a0a0" shape-rendering="crispEdges"/>
<rect x="245" y="0" width="3" height="1" fill="#a8a8a8" shape-rendering="crispEdges"/>
<rect x="245" y="2" width="3" height="1" fill="#a8a8a8" shape-rendering="crispEdges"/>
<rect x="245" y="4" width="3" height="1" fill="#a8a8a8" shape-rendering="crispEdges"/>
<rect x="245" y="6" width="3" height="1" fill="#a8a8a8" shape-rendering="crispEdges"/>
<rect x="245" y="8" width="3" height="1" fill="#a8a8a8" shape-rendering="crispEdges"/>
<rect x="245" y="10" width="3" height="1" fill="#a8a8a8" shape-rendering="crispEdges"/>
<rect x="245" y="12" width="3" height="1" fill="#a8a8a8" shape-rendering="crispEdges"/>
<rect x="245" y="14" width="3" height="1" fill="#a8a8a8" shape-rendering="crispEdges"/>
<rect x="245" y="16" width="3" height="1" fill="#a8a8a8" shape-rendering="crispEdges"/>
<rect x="245" y="18" width="3" height="1" fill="#a8a8a8" shape-rendering="crispEdges"/>
<g stroke="#555" stroke-width="1.3" fill="none"><path d="M259.5,4.3 V17.6 M257,15.6 H270.3"/></g>
<path d="M259.5,3.6 l-1.9,2.6 h3.8 z M271.2,15.6 l-2.6,-1.9 v3.8 z" fill="#555"/>
<g fill="#0a8a10"><rect x="264.8" y="5.2" width="1.4" height="8.8"/><rect x="266" y="5.8" width="2.2" height="1.2"/><rect x="263" y="11.8" width="2.2" height="1.2"/></g>
<rect x="279" y="0" width="1" height="20" fill="#a0a0a0" shape-rendering="crispEdges"/>
<rect x="280" y="0" width="25" height="20" fill="url(#chk)" shape-rendering="crispEdges"/>
<g stroke="#555" stroke-width="1.3" fill="none"><path d="M287.5,4.3 V17.6 M285,15.6 H298.3"/></g>
<path d="M287.5,3.6 l-1.9,2.6 h3.8 z M299.2,15.6 l-2.6,-1.9 v3.8 z" fill="#555"/>
<rect x="293.1" y="2.2" width="1.3" height="11.8" fill="#0a8a10"/><rect x="291.5" y="4.3" width="4.2" height="7.1" fill="url(#gcandle)" stroke="#068a0e" stroke-width="1"/>
<g stroke="#555" stroke-width="1.3" fill="none"><path d="M315.5,4.3 V17.6 M313,15.6 H326.3"/></g>
<path d="M315.5,3.6 l-1.9,2.6 h3.8 z M327.2,15.6 l-2.6,-1.9 v3.8 z" fill="#555"/>
<path d="M314.4,12.6 Q317.6,10.6 319,8.2 Q320.2,6.6 321.6,7.8 Q323.6,10 325.8,11" fill="none" stroke="#2a9a30" stroke-width="1.3"/>
<rect x="336" y="0" width="1" height="20" fill="#a0a0a0" shape-rendering="crispEdges"/>
<path d="M355.2,12.2 L360.2,17.2" stroke="#9a7408" stroke-width="3.4" stroke-linecap="round"/><path d="M355.4,12.4 L360,17" stroke="#ecd040" stroke-width="2" stroke-linecap="round"/>
<circle cx="351" cy="8" r="5.6" fill="url(#glens)" stroke="#2c80d0" stroke-width="1.2"/>
<rect x="348" y="7.1" width="6" height="1.8" fill="#3f8aae"/>
<rect x="350.1" y="5" width="1.8" height="6" fill="#3f8aae"/>
<path d="M383.2,12.2 L388.2,17.2" stroke="#9a7408" stroke-width="3.4" stroke-linecap="round"/><path d="M383.4,12.4 L388,17" stroke="#ecd040" stroke-width="2" stroke-linecap="round"/>
<circle cx="379" cy="8" r="5.6" fill="url(#glens)" stroke="#2c80d0" stroke-width="1.2"/>
<rect x="376" y="7.1" width="6" height="1.8" fill="#3f8aae"/>
<rect x="401" y="2" width="8" height="8" rx="0.8" fill="url(#gtg)"/>
<rect x="402" y="3" width="1" height="1" fill="#e0f0ff"/>
<path d="M402.5,5.2 h5.2 v3.6 h-1.2 v-0.8 h-2.8 v0.8 h-1.2 z" fill="#fff"/><rect x="403.4" y="6.1" width="3.4" height="0.9" fill="#9ad080"/>
<rect x="409" y="2" width="8" height="8" rx="0.8" fill="url(#gtb)"/>
<rect x="410" y="3" width="1" height="1" fill="#e0f0ff"/>
<path d="M410.5,5.2 h5.2 v3.6 h-1.2 v-0.8 h-2.8 v0.8 h-1.2 z" fill="#fff"/><rect x="411.4" y="6.1" width="3.4" height="0.9" fill="#8aa8f0"/>
<rect x="401" y="10" width="8" height="8" rx="0.8" fill="url(#gtb)"/>
<rect x="402" y="11" width="1" height="1" fill="#e0f0ff"/>
<path d="M402.5,13.2 h5.2 v3.6 h-1.2 v-0.8 h-2.8 v0.8 h-1.2 z" fill="#fff"/><rect x="403.4" y="14.1" width="3.4" height="0.9" fill="#8aa8f0"/>
<rect x="409" y="10" width="8" height="8" rx="0.8" fill="url(#gtg)"/>
<rect x="410" y="11" width="1" height="1" fill="#e0f0ff"/>
<path d="M410.5,13.2 h5.2 v3.6 h-1.2 v-0.8 h-2.8 v0.8 h-1.2 z" fill="#fff"/><rect x="411.4" y="14.1" width="3.4" height="0.9" fill="#9ad080"/>
<rect x="426" y="0" width="1" height="20" fill="#a0a0a0" shape-rendering="crispEdges"/>
<rect x="431" y="0" width="1" height="20" fill="#a0a0a0" shape-rendering="crispEdges"/>
<rect x="432" y="0" width="24" height="20" fill="url(#chk)" shape-rendering="crispEdges"/>
<g stroke="#555" stroke-width="1.3" fill="none"><path d="M439.5,4.3 V17.6 M437,15.6 H450.3"/></g>
<path d="M439.5,3.6 l-1.9,2.6 h3.8 z M451.2,15.6 l-2.6,-1.9 v3.8 z" fill="#555"/>
<path d="M444.2,6 L448.2,9.5 L444.2,13 Z" fill="#7be07b" stroke="#12a01a" stroke-width="1" stroke-linejoin="round"/>
<rect x="459" y="0" width="1" height="20" fill="#a0a0a0" shape-rendering="crispEdges"/>
<rect x="460" y="0" width="24" height="20" fill="url(#chk)" shape-rendering="crispEdges"/>
<g stroke="#555" stroke-width="1.3" fill="none"><path d="M467.5,4.3 V17.6 M465,15.6 H478.3"/></g>
<path d="M467.5,3.6 l-1.9,2.6 h3.8 z M479.2,15.6 l-2.6,-1.9 v3.8 z" fill="#555"/>
<rect x="472.9" y="4" width="1.3" height="10" fill="#1a6aa8"/><path d="M474.4,9.6 L477.6,6.8 L477,9 H479.4 V10.2 H477 L477.6,12.4 Z" fill="#e25a08" stroke="#c84800" stroke-width="0.4"/>
<rect x="488" y="0" width="1" height="20" fill="#a0a0a0" shape-rendering="crispEdges"/>
<path d="M498.5,3.5 q0,-1 1,-1 h6.5 l3.5,3.5 v9 q0,1 -1,1 h-9 q-1,0 -1,-1 z" fill="#fdfdfd" stroke="#8c8c8c" stroke-width="1"/>
<path d="M506,2.5 v3.5 h3.5" fill="#e8e8e8" stroke="#8c8c8c" stroke-width="0.8"/>
<path d="M500.5,5 h2 M500.5,5 v8 M500.5,9 h1.6" stroke="#6a6250" stroke-width="0.8" fill="none"/>
<path d="M506.34999999999997,8.85 h3.4 v3.5 h3.5 v3.4 h-3.5 v3.5 h-3.4 v-3.5 h-3.5 v-3.4 h3.5 z" fill="url(#gplus)" stroke="#0a8212" stroke-width="0.9" stroke-linejoin="miter"/>
<path d="M507.04999999999995,9.65 h1.2 v3.5 M503.65,13.149999999999999 h3.4" stroke="#b8ffb8" stroke-width="0.7" fill="none" opacity="0.8"/>
<polygon points="519.6,9 525.4,9 522.5,12.2" fill="#000"/>
<circle cx="544" cy="9.8" r="7.9" fill="url(#gclock)"/><circle cx="544" cy="9.8" r="5.6" fill="#fbfdff"/>
<g stroke="#9a9a9a" stroke-width="0.7"><path d="M544,4.8 v1 M544,13.8 v1 M539,9.8 h1 M548,9.8 h1"/></g>
<path d="M543.4,6 V10 H546.6" stroke="#222" stroke-width="1.2" fill="none"/><rect x="542.6" y="12.3" width="2.6" height="0.8" fill="#6aa8f0"/>
<polygon points="558.6,9 564.4,9 561.5,12.2" fill="#000"/>
<rect x="575.4" y="3.3" width="15.2" height="13.4" fill="#fff" stroke="#3a76c4" stroke-width="1"/><rect x="575.9" y="3.8" width="14.2" height="2" fill="url(#gtpl)"/><rect x="575.9" y="11" width="14.2" height="0.9" fill="#4a86d0"/>
<path d="M577.6,9.4 h1.6 l1.4,-1 h1 l1.2,-0.9 h1 l1,0.9 h1.2 l1.2,-0.9 h1.2" fill="none" stroke="#a21c08" stroke-width="1.1"/>
<path d="M578.4,14.4 h1.2 l1.2,-0.8 h1 l1,0.8 h1 l1.6,-1.8 h0.8 l1.4,1.8 h0.6" fill="none" stroke="#0a8a2a" stroke-width="1.1"/>
<polygon points="597.6,9 603.4,9 600.5,12.2" fill="#000"/>
<rect x="609" y="0" width="1" height="22" fill="#8c8c8c" shape-rendering="crispEdges"/>
<rect x="613" y="0" width="3" height="1" fill="#a8a8a8" shape-rendering="crispEdges"/>
<rect x="613" y="2" width="3" height="1" fill="#a8a8a8" shape-rendering="crispEdges"/>
<rect x="613" y="4" width="3" height="1" fill="#a8a8a8" shape-rendering="crispEdges"/>
<rect x="613" y="6" width="3" height="1" fill="#a8a8a8" shape-rendering="crispEdges"/>
<rect x="613" y="8" width="3" height="1" fill="#a8a8a8" shape-rendering="crispEdges"/>
<rect x="613" y="10" width="3" height="1" fill="#a8a8a8" shape-rendering="crispEdges"/>
<rect x="613" y="12" width="3" height="1" fill="#a8a8a8" shape-rendering="crispEdges"/>
<rect x="613" y="14" width="3" height="1" fill="#a8a8a8" shape-rendering="crispEdges"/>
<rect x="613" y="16" width="3" height="1" fill="#a8a8a8" shape-rendering="crispEdges"/>
<rect x="613" y="18" width="3" height="1" fill="#a8a8a8" shape-rendering="crispEdges"/>
<rect x="619" y="0" width="1" height="20" fill="#a0a0a0" shape-rendering="crispEdges"/>
<rect x="620" y="0" width="24" height="20" fill="url(#chk)" shape-rendering="crispEdges"/>
<path d="M627.3,2.8 V14.2 L629.9,11.6 L632.4,17.2 L634.2,16.4 L631.8,11 L635.2,10.6 Z" fill="#4d4d4d"/>
<g fill="#4d4d4d" shape-rendering="crispEdges"><rect x="659" y="3" width="1" height="6"/><rect x="659" y="12" width="1" height="6"/><rect x="652" y="10" width="6" height="1"/><rect x="661" y="10" width="6" height="1"/><rect x="659" y="10" width="1" height="1" fill="#9a9a9a"/></g>
<rect x="676" y="0" width="1" height="20" fill="#a0a0a0" shape-rendering="crispEdges"/>
<rect x="693" y="4" width="1.2" height="13.2" fill="#4d4d4d"/>
<rect x="716" y="10" width="12" height="1.2" fill="#4d4d4d"/>
<path d="M743.8,16.8 L756,4.7" stroke="#4d4d4d" stroke-width="1.2"/>
<g stroke="#3c3c3c" stroke-width="1.15" fill="none"><path d="M769.6,12.2 L778.6,3.8 M774.2,17.2 L784.6,7.8"/><path d="M772.6,16 L774.8,7.4 M776.4,14.4 L778.6,5.2 M780.4,11.4 L782.2,2.4" stroke-width="1"/></g>
<text x="780.5" y="18.8" font-size="7.4" font-weight="bold" fill="#333">E</text>
<rect x="799" y="3" width="1" height="1" fill="#4d4d4d" shape-rendering="crispEdges"/>
<rect x="801" y="3" width="1" height="1" fill="#4d4d4d" shape-rendering="crispEdges"/>
<rect x="803" y="3" width="1" height="1" fill="#4d4d4d" shape-rendering="crispEdges"/>
<rect x="805" y="3" width="1" height="1" fill="#4d4d4d" shape-rendering="crispEdges"/>
<rect x="807" y="3" width="1" height="1" fill="#4d4d4d" shape-rendering="crispEdges"/>
<rect x="809" y="3" width="1" height="1" fill="#4d4d4d" shape-rendering="crispEdges"/>
<rect x="811" y="3" width="1" height="1" fill="#4d4d4d" shape-rendering="crispEdges"/>
<rect x="799" y="6" width="1" height="1" fill="#4d4d4d" shape-rendering="crispEdges"/>
<rect x="801" y="6" width="1" height="1" fill="#4d4d4d" shape-rendering="crispEdges"/>
<rect x="803" y="6" width="1" height="1" fill="#4d4d4d" shape-rendering="crispEdges"/>
<rect x="805" y="6" width="1" height="1" fill="#4d4d4d" shape-rendering="crispEdges"/>
<rect x="807" y="6" width="1" height="1" fill="#4d4d4d" shape-rendering="crispEdges"/>
<rect x="809" y="6" width="1" height="1" fill="#4d4d4d" shape-rendering="crispEdges"/>
<rect x="811" y="6" width="1" height="1" fill="#4d4d4d" shape-rendering="crispEdges"/>
<rect x="799" y="10" width="1" height="1" fill="#4d4d4d" shape-rendering="crispEdges"/>
<rect x="801" y="10" width="1" height="1" fill="#4d4d4d" shape-rendering="crispEdges"/>
<rect x="803" y="10" width="1" height="1" fill="#4d4d4d" shape-rendering="crispEdges"/>
<rect x="805" y="10" width="1" height="1" fill="#4d4d4d" shape-rendering="crispEdges"/>
<rect x="807" y="10" width="1" height="1" fill="#4d4d4d" shape-rendering="crispEdges"/>
<rect x="809" y="10" width="1" height="1" fill="#4d4d4d" shape-rendering="crispEdges"/>
<rect x="811" y="10" width="1" height="1" fill="#4d4d4d" shape-rendering="crispEdges"/>
<rect x="799" y="14" width="1" height="1" fill="#4d4d4d" shape-rendering="crispEdges"/>
<rect x="801" y="14" width="1" height="1" fill="#4d4d4d" shape-rendering="crispEdges"/>
<rect x="803" y="14" width="1" height="1" fill="#4d4d4d" shape-rendering="crispEdges"/>
<rect x="805" y="14" width="1" height="1" fill="#4d4d4d" shape-rendering="crispEdges"/>
<rect x="807" y="14" width="1" height="1" fill="#4d4d4d" shape-rendering="crispEdges"/>
<text x="808.8" y="18.8" font-size="7.4" font-weight="bold" fill="#333">F</text>
<text x="829.6" y="15" font-size="12.4" fill="#4d4d4d" stroke="#4d4d4d" stroke-width="0.3">A</text>
<rect x="856" y="4" width="1" height="1" fill="#4d4d4d" shape-rendering="crispEdges"/><rect x="856" y="16" width="1" height="1" fill="#4d4d4d" shape-rendering="crispEdges"/>
<rect x="858" y="4" width="1" height="1" fill="#4d4d4d" shape-rendering="crispEdges"/><rect x="858" y="16" width="1" height="1" fill="#4d4d4d" shape-rendering="crispEdges"/>
<rect x="860" y="4" width="1" height="1" fill="#4d4d4d" shape-rendering="crispEdges"/><rect x="860" y="16" width="1" height="1" fill="#4d4d4d" shape-rendering="crispEdges"/>
<rect x="862" y="4" width="1" height="1" fill="#4d4d4d" shape-rendering="crispEdges"/><rect x="862" y="16" width="1" height="1" fill="#4d4d4d" shape-rendering="crispEdges"/>
<rect x="864" y="4" width="1" height="1" fill="#4d4d4d" shape-rendering="crispEdges"/><rect x="864" y="16" width="1" height="1" fill="#4d4d4d" shape-rendering="crispEdges"/>
<rect x="866" y="4" width="1" height="1" fill="#4d4d4d" shape-rendering="crispEdges"/><rect x="866" y="16" width="1" height="1" fill="#4d4d4d" shape-rendering="crispEdges"/>
<rect x="856" y="4" width="1" height="1" fill="#4d4d4d" shape-rendering="crispEdges"/><rect x="867" y="4" width="1" height="1" fill="#4d4d4d" shape-rendering="crispEdges"/>
<rect x="856" y="6" width="1" height="1" fill="#4d4d4d" shape-rendering="crispEdges"/><rect x="867" y="6" width="1" height="1" fill="#4d4d4d" shape-rendering="crispEdges"/>
<rect x="856" y="8" width="1" height="1" fill="#4d4d4d" shape-rendering="crispEdges"/><rect x="867" y="8" width="1" height="1" fill="#4d4d4d" shape-rendering="crispEdges"/>
<rect x="856" y="10" width="1" height="1" fill="#4d4d4d" shape-rendering="crispEdges"/><rect x="867" y="10" width="1" height="1" fill="#4d4d4d" shape-rendering="crispEdges"/>
<rect x="856" y="12" width="1" height="1" fill="#4d4d4d" shape-rendering="crispEdges"/><rect x="867" y="12" width="1" height="1" fill="#4d4d4d" shape-rendering="crispEdges"/>
<rect x="856" y="14" width="1" height="1" fill="#4d4d4d" shape-rendering="crispEdges"/><rect x="867" y="14" width="1" height="1" fill="#4d4d4d" shape-rendering="crispEdges"/>
<rect x="856" y="16" width="1" height="1" fill="#4d4d4d" shape-rendering="crispEdges"/><rect x="867" y="16" width="1" height="1" fill="#4d4d4d" shape-rendering="crispEdges"/>
<rect x="855" y="3" width="2" height="1" fill="#4d4d4d"/>
<path d="M857.6,7 H866 V8.6 H862.7 V14.6 H860.9 V8.6 H857.6 Z" fill="#4d4d4d"/>
<path d="M886.4,3.6 L890,7 L886.4,8.8 L882.8,7 Z M893.6,17.4 L897.2,14 L893.6,12.2 L890,14 Z" fill="#4d4d4d"/><path d="M885,11 L887.6,13.4 L892,7.8" stroke="#4d4d4d" stroke-width="1.3" fill="none"/>
<polygon points="903.6,9 909.4,9 906.5,12.2" fill="#000"/>
<rect x="915" y="0" width="1" height="22" fill="#8c8c8c" shape-rendering="crispEdges"/>
<rect x="919" y="0" width="3" height="1" fill="#a8a8a8" shape-rendering="crispEdges"/>
<rect x="919" y="2" width="3" height="1" fill="#a8a8a8" shape-rendering="crispEdges"/>
<rect x="919" y="4" width="3" height="1" fill="#a8a8a8" shape-rendering="crispEdges"/>
<rect x="919" y="6" width="3" height="1" fill="#a8a8a8" shape-rendering="crispEdges"/>
<rect x="919" y="8" width="3" height="1" fill="#a8a8a8" shape-rendering="crispEdges"/>
<rect x="919" y="10" width="3" height="1" fill="#a8a8a8" shape-rendering="crispEdges"/>
<rect x="919" y="12" width="3" height="1" fill="#a8a8a8" shape-rendering="crispEdges"/>
<rect x="919" y="14" width="3" height="1" fill="#a8a8a8" shape-rendering="crispEdges"/>
<rect x="919" y="16" width="3" height="1" fill="#a8a8a8" shape-rendering="crispEdges"/>
<rect x="919" y="18" width="3" height="1" fill="#a8a8a8" shape-rendering="crispEdges"/>
<text x="930" y="14" font-size="10.2" fill="#333" textLength="13.4" lengthAdjust="spacingAndGlyphs">M1</text>
<text x="957.6" y="14" font-size="10.2" fill="#333" textLength="13.8" lengthAdjust="spacingAndGlyphs">M5</text>
<text x="984" y="14" font-size="10.2" fill="#333" textLength="18.2" lengthAdjust="spacingAndGlyphs">M15</text>
<text x="1011.6" y="14" font-size="10.2" fill="#333" textLength="18.4" lengthAdjust="spacingAndGlyphs">M30</text>
<text x="1042.6" y="14" font-size="10.2" fill="#333" textLength="12.2" lengthAdjust="spacingAndGlyphs">H1</text>
<rect x="1065" y="0" width="1" height="20" fill="#a0a0a0" shape-rendering="crispEdges"/>
<rect x="1066" y="0" width="24" height="20" fill="url(#chk)" shape-rendering="crispEdges"/>
<text x="1070" y="14" font-size="10.2" fill="#333" textLength="13" lengthAdjust="spacingAndGlyphs">H4</text>
<text x="1099.2" y="14" font-size="10.2" fill="#333" textLength="12.6" lengthAdjust="spacingAndGlyphs">D1</text>
<text x="1126.8" y="14" font-size="10.2" fill="#333" textLength="15" lengthAdjust="spacingAndGlyphs">W1</text>
<text x="1153" y="14" font-size="10.2" fill="#333" textLength="15.4" lengthAdjust="spacingAndGlyphs">MN</text>
<rect x="1176" y="0" width="1" height="22" fill="#a0a0a0" shape-rendering="crispEdges"/>
<path d="M1642.6,11.2 L1638.6,15.2" stroke="#2a5ccc" stroke-width="2.6" stroke-linecap="round"/><circle cx="1646.4" cy="7.4" r="4" fill="#f4f7ff" stroke="#2a5ccc" stroke-width="1.4"/>
<path d="M1663.4,12 Q1663.4,7.2 1669,7.2 Q1675.6,7.2 1675.6,12 Q1675.6,16.4 1669,16.4 L1667,18.4 L1666.6,16 Q1663.4,15.2 1663.4,12 Z" fill="#e4e6ee" stroke="#b8bcc8" stroke-width="0.8"/>
<circle cx="1677.6" cy="7.4" r="8.2" fill="url(#gbadge)"/><text x="1673.2" y="12" font-size="12.4" font-weight="bold" fill="#fff" textLength="5.8" lengthAdjust="spacingAndGlyphs">1</text>
</g>
</svg>
</body></html>
